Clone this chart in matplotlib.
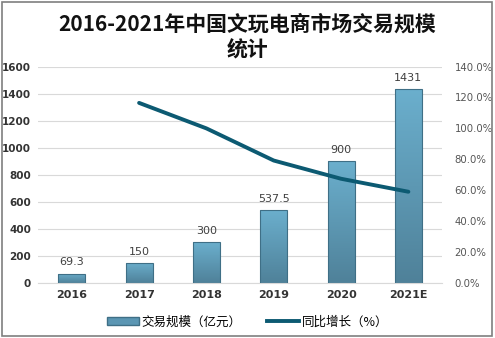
import numpy as np
import matplotlib.pyplot as plt
from matplotlib.patches import Rectangle
from matplotlib.lines import Line2D
from matplotlib.colors import LinearSegmentedColormap

plt.rcParams['font.family'] = ['Noto Sans CJK SC', 'DejaVu Sans']

years = ["2016", "2017", "2018", "2019", "2020", "2021E"]
scale = [69.3, 150, 300, 537.5, 900, 1431]
growth_years = ["2017", "2018", "2019", "2020", "2021E"]
growth = [116.5, 100.0, 79.2, 67.4, 59.0]

fig = plt.figure(figsize=(4.95, 3.38), dpi=100)
ax = fig.add_axes([0.077, 0.163, 0.816, 0.64])
ax2 = ax.twinx()

x = np.arange(len(years))
bw = 0.4
bars = ax.bar(x, scale, width=bw, color="none", edgecolor="#3f6f86", linewidth=0.8, zorder=3)

# vertical gradient fill for each bar
grad = np.linspace(0, 1, 256).reshape(-1, 1)
cmap = LinearSegmentedColormap.from_list("bar", ["#4f8199", "#6bafcd"])
for b in bars:
    x0, w, h = b.get_x(), b.get_width(), b.get_height()
    im = ax.imshow(grad, cmap=cmap, aspect="auto", origin="lower",
                   extent=[x0, x0 + w, 0, h], zorder=2)
    im.set_clip_path(b)

for xi, v in zip(x, scale):
    ax.text(xi, v + 45, f"{v:g}", ha="center", va="bottom", fontsize=8,
            color="#404040", family="DejaVu Sans")

gx = [years.index(y) for y in growth_years]
ax2.plot(gx, growth, color="#0c5a72", linewidth=2.8, solid_capstyle="round", zorder=4)

ax.set_xlim(-0.5, len(years) - 0.5)
ax.set_ylim(0, 1600)
ax.set_yticks(range(0, 1601, 200))
ax2.set_ylim(0, 140)
ax2.set_yticks(range(0, 141, 20))
ax2.set_yticklabels([f"{t:.1f}%" for t in range(0, 141, 20)])

ax.set_xticks(x)
ax.set_xticklabels(years, fontweight="bold", fontsize=8, family="DejaVu Sans", color="#333333")
for lab in ax.get_yticklabels():
    lab.set_fontweight("bold")
    lab.set_fontsize(7.5)
    lab.set_family("DejaVu Sans")
    lab.set_color("#333333")
for lab in ax2.get_yticklabels():
    lab.set_fontsize(7.3)
    lab.set_family("DejaVu Sans")
    lab.set_color("#555555")

ax.grid(axis="y", color="#d9d9d9", linewidth=0.8, zorder=0)
ax.set_axisbelow(True)
for a in (ax, ax2):
    for s in a.spines.values():
        s.set_visible(False)
    a.tick_params(length=0)
ax.tick_params(axis="y", pad=5)
ax2.tick_params(axis="y", pad=9)
ax.tick_params(axis="x", pad=5)
ax.spines["bottom"].set_visible(True)
ax.spines["bottom"].set_color("#d9d9d9")

fig.text(0.5, 0.96, "2016-2021年中国文玩电商市场交易规模\n统计", ha="center", va="top",
         fontsize=15, fontweight="bold", linespacing=1.3, color="#111111")

handles = [Rectangle((0, 0), 1, 1, facecolor="#5b96b3", edgecolor="#3f6f86"),
           Line2D([0], [0], color="#0c5a72", linewidth=2.8)]
fig.legend(handles, ["交易规模（亿元）", "同比增长（%）"], loc="center", ncol=2,
           bbox_to_anchor=(0.5, 0.048), frameon=False, fontsize=9,
           handlelength=2.6, handleheight=0.6, columnspacing=2.0, handletextpad=0.2)

fig.patches.append(Rectangle((0.004, 0.006), 0.99, 0.988, transform=fig.transFigure,
                             fill=False, edgecolor="#7f7f7f", linewidth=1.2))

fig.savefig("out.png", dpi=100)
